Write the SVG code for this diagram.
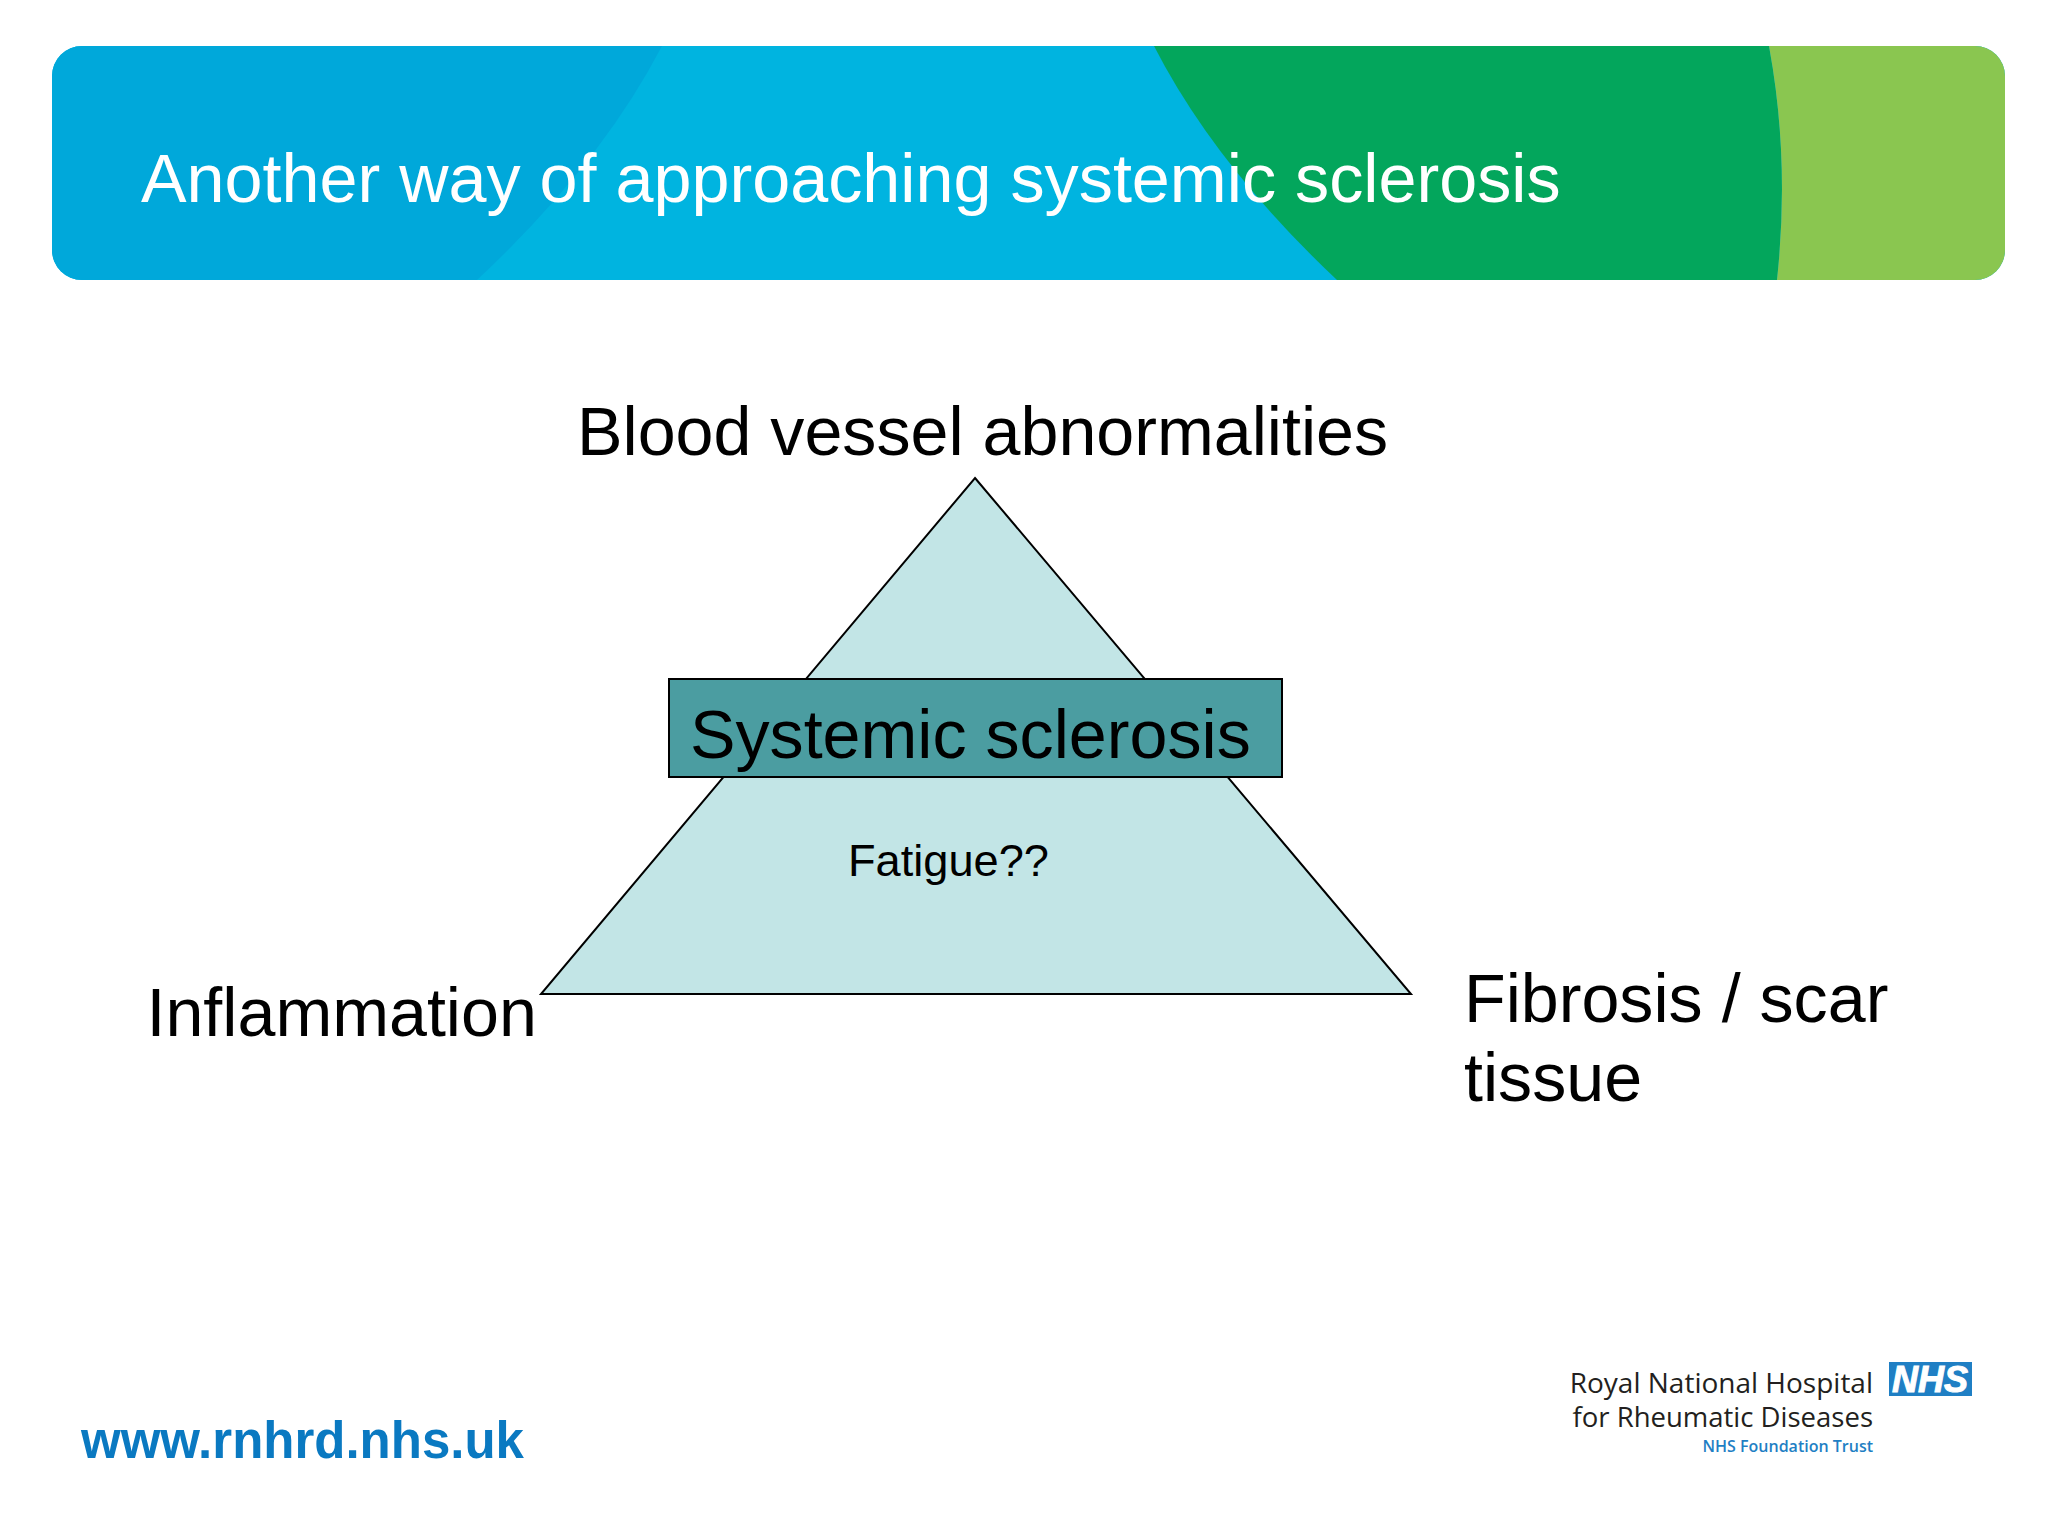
<svg xmlns="http://www.w3.org/2000/svg" width="2048" height="1536" viewBox="0 0 2048 1536">
<style>
text{font-family:"Liberation Sans",Arial,sans-serif;fill:#000}
.big{font-size:68.2px}
.logo{font-family:"Open Sans","Noto Sans",sans-serif;text-anchor:end;fill:#231f20}
</style>
<defs><clipPath id="bannerClip"><rect x="52" y="46" width="1953" height="234" rx="30" ry="30"/></clipPath></defs>
<rect width="2048" height="1536" fill="#fff"/>
<g id="banner">
<g clip-path="url(#bannerClip)">
<rect x="52" y="46" width="1953" height="234" fill="#00b4e0"/>
<path d="M52 46H662Q600 165 477 280H52Z" fill="#00a8da"/>
<path d="M1154 46H1769Q1790 160 1777 280H1337Q1215 165 1154 46Z" fill="#03a65c"/>
<path d="M1769 46H2005V280H1777Q1790 160 1769 46Z" fill="#8ac650"/>
</g>
<text x="141" y="201.500" font-size="68.3" style="fill:#fff">Another way of approaching systemic sclerosis</text>
</g>
<g id="triangle"><polygon points="975,478 1411,994 541,994" fill="#c2e5e6" stroke="#000" stroke-width="2"/></g>
<g id="center-box">
<rect x="669" y="679" width="613" height="98" fill="#4b9da1" stroke="#000" stroke-width="2"/>
<text class="big" x="690" y="758">Systemic sclerosis</text>
</g>
<g id="label-top"><text class="big" x="577" y="455">Blood vessel abnormalities</text></g>
<g id="label-left"><text class="big" x="146.500" y="1036">Inflammation</text></g>
<g id="label-right"><text class="big" x="1464" y="1022">Fibrosis / scar</text><text class="big" x="1464" y="1101">tissue</text></g>
<g id="label-fatigue"><text x="848" y="876" font-size="45.200">Fatigue??</text></g>
<g id="url"><text x="81" y="1458" font-size="51" font-weight="700" style="fill:#0a79c1">www.rnhrd.nhs.uk</text></g>
<g id="logo">
<rect x="1889" y="1362" width="83" height="34" fill="#1f7fc4"/>
<text x="1930" y="1392" font-size="36" font-weight="700" font-style="italic" text-anchor="middle" style="fill:#fff;stroke:#fff;stroke-width:1">NHS</text>
<text class="logo" x="1873" y="1393" font-size="28" font-weight="500">Royal National Hospital</text>
<text class="logo" x="1873" y="1427" font-size="27.500" font-weight="500">for Rheumatic Diseases</text>
<text class="logo" x="1873" y="1452" font-size="16" font-weight="600" style="fill:#1f7fc4">NHS Foundation Trust</text>
</g>
</svg>
